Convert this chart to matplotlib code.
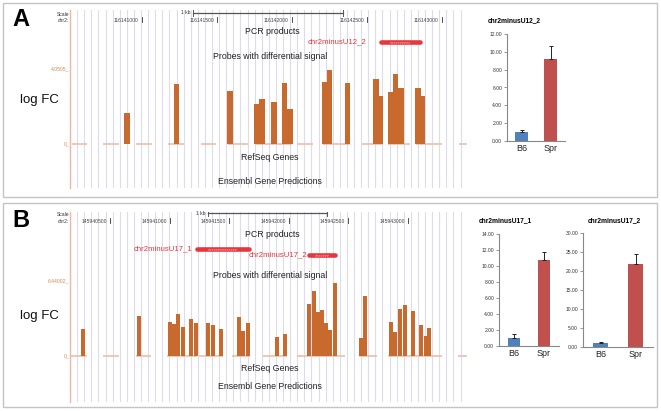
import numpy as np
import matplotlib.pyplot as plt
import matplotlib.transforms as mtransforms
from matplotlib.patches import Rectangle

plt.rcParams['font.family'] = ['Liberation Sans', 'DejaVu Sans']

W, H = 661, 411

# ---- panel A: chr2 tiling probes (genomic position, log FC)
a_probe_pos = [116140900, 116141233, 116141587, 116141767, 116141800, 116141880,
               116141953, 116141987, 116142220, 116142253, 116142373, 116142560,
               116142593, 116142660, 116142693, 116142727, 116142840, 116142873]
a_logfc = [1.67, 3.24, 2.86, 2.16, 2.43, 2.27, 3.3, 1.89, 3.35, 4.0, 3.3, 3.5,
           2.6, 2.8, 3.78, 3.0, 3.0, 2.6]
a_tiles = [(116140533, 116140633), (116140740, 116140847), (116140960, 116141067),
           (116141173, 116141280), (116141393, 116141493), (116141573, 116141707),
           (116141753, 116142000), (116142033, 116142140), (116142207, 116142387),
           (116142467, 116142600), (116142640, 116142787), (116142827, 116143000),
           (116143113, 116143167)]
a_pcr = [('chr2minusU12_2', 116142593, 116142853)]
a_ticks = [116141000, 116141500, 116142000, 116142500, 116143000]
a_max = 4.0505
a_xlim = (116140520, 116143167)

# ---- panel B
b_probe_pos = [145940269, 145940740, 145941000, 145941034, 145941067, 145941109,
               145941176, 145941218, 145941319, 145941361, 145941428, 145941580,
               145941613, 145941655, 145941899, 145941966, 145942168, 145942210,
               145942244, 145942277, 145942311, 145942344, 145942386, 145942605,
               145942638, 145942856, 145942890, 145942932, 145942974, 145943042,
               145943109, 145943151, 145943176]
b_logfc = [2.32, 3.43, 2.92, 2.75, 3.6, 2.49, 3.18, 2.83, 2.83, 2.66, 2.32, 3.35,
           2.15, 2.83, 1.63, 1.89, 4.46, 5.58, 3.78, 3.95, 2.83, 2.23, 6.27, 1.55,
           5.15, 2.92, 2.06, 4.03, 4.38, 3.86, 2.66, 1.72, 2.4]
b_tiles = [(145940160, 145940303), (145940437, 145940572), (145940714, 145940840),
           (145940975, 145941227), (145941244, 145941445), (145941521, 145941672),
           (145941781, 145941983), (145942067, 145942470), (145942588, 145942739),
           (145942831, 145943285), (145943420, 145943496)]
b_pcr = [('chr2minusU17_1', 145941227, 145941664), ('chr2minusU17_2', 145942168, 145942387)]
b_ticks = [145940500, 145941000, 145941500, 145942000, 145942500, 145943000]
b_max = 6.44002
b_xlim = (145940160, 145943496)

# ---- qPCR validation
groups = ['B6', 'Spr']
u12_2_mean, u12_2_err = [1.0, 9.15], [0.2, 1.45]
u17_1_mean, u17_1_err = [1.02, 10.8], [0.43, 1.0]
u17_2_mean, u17_2_err = [0.97, 21.8], [0.3, 2.6]

BAR = '#C8692D'
TILE = '#EDBFA8'
PCR = '#E8363A'


def fx(px):
    return px / W


def fy(py):
    return 1 - py / H


fig = plt.figure(figsize=(W / 100, H / 100), dpi=100)

for y0, y1 in [(3, 197), (203, 407)]:
    fig.patches.append(Rectangle((fx(3), fy(y1)), fx(654), (y1 - y0) / H,
                                 transform=fig.transFigure, fill=False,
                                 edgecolor='#C4C4C4', lw=1.0))


def browser(lay, xlim, probes, vals, vmax, tiles, pcr, ticks, scale_x):
    top, bot = lay['grid']
    zero, mpx = lay['zero'], lay['max']
    k = vmax / (zero - mpx)
    ax = fig.add_axes([fx(70), fy(bot), fx(397), (bot - top) / H])
    ax.set_xlim(xlim)
    ax.set_ylim(-(bot - zero) * k, (zero - top) * k)
    ax.axis('off')
    bpp = (xlim[1] - xlim[0]) / 397.0
    tr = mtransforms.blended_transform_factory(ax.transData, fig.transFigure)

    for g in np.arange(7.1, 397, 7.1):
        ax.axvline(xlim[0] + g * bpp, color='#DCDCEE', lw=0.8, zorder=0)
    ax.axvline(xlim[0], color='#F0B5A3', lw=1.0, zorder=0, clip_on=False)

    for s, e in tiles:
        ax.plot([s, e], [0, 0], color=TILE, lw=1.2, solid_capstyle='butt', zorder=1)
    ax.bar(probes, vals, width=34, color=BAR, zorder=3)

    # ruler
    fig.text(fx(69), fy(lay['scale']), 'Scale', fontsize=3.6, color='#333',
             ha='right', va='center')
    fig.text(fx(69), fy(lay['chr']), 'chr2:', fontsize=3.6, color='#333',
             ha='right', va='center')
    for t in ticks:
        ax.text(t - 3 * bpp, fy(lay['chr']), str(t), transform=tr, fontsize=3.6,
                color='#444', ha='right', va='center')
        ax.plot([t, t], [fy(lay['chr'] - 3), fy(lay['chr'] + 2)], transform=tr,
                color='#333', lw=0.6, clip_on=False)
    sy = fy(lay['scale'] - 1)
    ax.plot([scale_x, scale_x + 1000], [sy, sy], transform=tr, color='#555', lw=0.9)
    for s in (scale_x, scale_x + 1000):
        ax.plot([s, s], [sy - 3 / H, sy + 3 / H], transform=tr, color='#555', lw=0.7)
    ax.text(scale_x - 2 * bpp, sy, '1 kb', transform=tr, fontsize=3.6, color='#333',
            ha='right', va='center')

    # track labels
    cx = lay['cx']
    fig.text(fx(cx + 2), fy(lay['pcr_label']), 'PCR products', fontsize=6.3,
             color='#222', ha='center', va='center')
    for (name, s, e), (row, gap) in zip(pcr, lay['pcr_rows']):
        ax.plot([s, e], [fy(row)] * 2, transform=tr, color=PCR, lw=3.3,
                solid_capstyle='round')
        ax.text((s + e) / 2, fy(row), '>' * max(int((e - s) / bpp / 3.6), 3),
                transform=tr, fontsize=2.6, color='white', ha='center', va='center')
        ax.text(s - gap * bpp, fy(row), name, transform=tr, fontsize=5.6, color=PCR,
                ha='right', va='center')
    fig.text(fx(cx), fy(lay['probes']), 'Probes with differential signal',
             fontsize=6.3, color='#222', ha='center', va='center')
    fig.text(fx(cx), fy(lay['refseq']), 'RefSeq Genes', fontsize=6.3, color='#222',
             ha='center', va='center')
    fig.text(fx(cx), fy(lay['ensembl']), 'Ensembl Gene Predictions', fontsize=6.3,
             color='#222', ha='center', va='center')

    # data range labels
    fig.text(fx(69), fy(mpx + 1), f'{vmax}_', fontsize=3.6, color='#D28A58',
             ha='right', va='baseline')
    fig.text(fx(69), fy(zero + 1), '0_', fontsize=3.6, color='#D28A58',
             ha='right', va='baseline')
    fig.text(fx(39), fy(lay['logfc']), 'log FC', fontsize=9.5, color='#111',
             ha='center', va='center')
    return ax


def qpcr(rect, title, title_xy, means, errs, ymax, step):
    x0, y0, x1, y1 = rect
    ax = fig.add_axes([fx(x0), fy(y1), (x1 - x0) / W, (y1 - y0) / H])
    x = np.arange(len(groups))
    ax.bar(x, means, width=0.42, color=['#4F81BD', '#C0504D'], zorder=2)
    ax.errorbar(x, means, yerr=[np.zeros(len(errs)), errs], fmt='none',
                ecolor='#222', elinewidth=0.7, capsize=1.5, capthick=0.7, zorder=3)
    ax.set_xlim(-0.5, 1.5)
    ax.set_ylim(0, ymax)
    yt = np.arange(0, ymax + step / 2, step)
    ax.set_yticks(yt)
    ax.set_yticklabels([f'{v:.2f}' for v in yt], fontsize=3.6, color='#333')
    ax.set_xticks(x)
    ax.set_xticklabels(groups, fontsize=6.5, color='#222')
    for sp in ('top', 'right'):
        ax.spines[sp].set_visible(False)
    for sp in ('left', 'bottom'):
        ax.spines[sp].set_color('#888')
        ax.spines[sp].set_linewidth(0.8)
    ax.tick_params(axis='y', length=2, width=0.6, color='#888', pad=1.5)
    ax.tick_params(axis='x', length=0, pad=2)
    fig.text(fx(title_xy[0]), fy(title_xy[1]), title, fontsize=4.8,
             fontweight='bold', ha='center', va='center')
    return ax


lay_a = dict(grid=(10, 188), zero=144, max=69, scale=14, chr=20, cx=270,
             pcr_label=32, pcr_rows=[(42, 15)], probes=56, logfc=100,
             refseq=158, ensembl=181)
lay_b = dict(grid=(212, 402), zero=356, max=281, scale=214, chr=221, cx=270,
             pcr_label=234, pcr_rows=[(249, 5), (255, 2)], probes=276, logfc=316,
             refseq=368, ensembl=386)

browser(lay_a, a_xlim, a_probe_pos, a_logfc, a_max, a_tiles, a_pcr, a_ticks, 116141340)
browser(lay_b, b_xlim, b_probe_pos, b_logfc, b_max, b_tiles, b_pcr, b_ticks, 145941319)

qpcr((507, 34, 565, 141), 'chr2minusU12_2', (514, 21), u12_2_mean, u12_2_err, 12, 2)
qpcr((499, 234, 559, 346), 'chr2minusU17_1', (505, 221), u17_1_mean, u17_1_err, 14, 2)
qpcr((583, 233, 653, 347), 'chr2minusU17_2', (614, 221), u17_2_mean, u17_2_err, 30, 5)

fig.text(fx(12), fy(19), 'A', fontsize=17, fontweight='bold', ha='left', va='center')
fig.text(fx(12), fy(220), 'B', fontsize=17, fontweight='bold', ha='left', va='center')

fig.savefig('out.png', dpi=100, facecolor='white')
